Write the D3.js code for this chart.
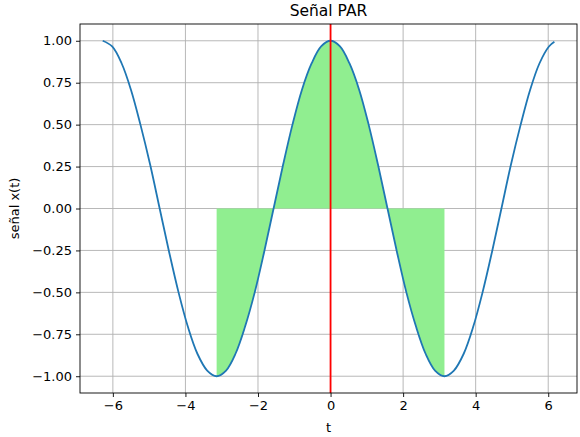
<!DOCTYPE html>
<html>
<head>
<meta charset="utf-8">
<script src="https://cdn.jsdelivr.net/npm/d3@7"></script>
<style>
  body { margin: 0; background: #fff; }
  svg text { font-family: "DejaVu Sans", sans-serif; fill: #000; }
</style>
</head>
<body>
<div id="chart"></div>
<script>
// signal samples
var t_values = [-6.28, -6.02, -5.76, -5.50, -5.24, -4.97, -4.71, -4.45, -4.19, -3.93, -3.67, -3.40,
  -3.14, -2.88, -2.62, -2.36, -2.09, -1.83, -1.57, -1.31, -1.05, -0.79, -0.52, -0.26,
  0, 0.26, 0.52, 0.79, 1.05, 1.31, 1.57, 1.83, 2.09, 2.36, 2.62, 2.88,
  3.14, 3.40, 3.67, 3.93, 4.19, 4.45, 4.71, 4.97, 5.24, 5.50, 5.76, 6.02, 6.17];
var x_values = [1, 0.966, 0.866, 0.707, 0.5, 0.259, 0, -0.259, -0.5, -0.707, -0.866, -0.966,
  -1, -0.966, -0.866, -0.707, -0.5, -0.259, 0, 0.259, 0.5, 0.707, 0.866, 0.966,
  1, 0.966, 0.866, 0.707, 0.5, 0.259, 0, -0.259, -0.5, -0.707, -0.866, -0.966,
  -1, -0.966, -0.866, -0.707, -0.5, -0.259, 0, 0.259, 0.5, 0.707, 0.866, 0.966, 0.994];
var fill_range = [-3.14, 3.14];
var x_ticks = [-6, -4, -2, 0, 2, 4, 6];
var y_ticks = [1.00, 0.75, 0.50, 0.25, 0.00, -0.25, -0.50, -0.75, -1.00];

var width = 580, height = 437;
var margin = {left: 80, right: 3, top: 24, bottom: 44};
var plot_w = width - margin.left - margin.right;
var plot_h = height - margin.top - margin.bottom;

var svg = d3.select('#chart').append('svg').attr('width', width).attr('height', height);
var g = svg.append('g').attr('transform', 'translate(' + margin.left + ',' + margin.top + ')');

var x_scale = d3.scaleLinear().domain([-6.906, 6.793]).range([0, plot_w]);
var y_scale = d3.scaleLinear().domain([-1.1, 1.1]).range([plot_h, 0]);

var fmt_minus = s => s.replace('-', '\u2212');

// grid
g.append('g').selectAll('line').data(x_ticks).enter().append('line')
  .attr('x1', d => x_scale(d)).attr('x2', d => x_scale(d))
  .attr('y1', 0).attr('y2', plot_h)
  .attr('stroke', '#b0b0b0').attr('stroke-width', 0.9);
g.append('g').selectAll('line').data(y_ticks).enter().append('line')
  .attr('y1', d => y_scale(d)).attr('y2', d => y_scale(d))
  .attr('x1', 0).attr('x2', plot_w)
  .attr('stroke', '#b0b0b0').attr('stroke-width', 0.9);

var points = t_values.map((t, i) => [t, x_values[i]]);
var fill_points = points.filter(p => p[0] >= fill_range[0] && p[0] <= fill_range[1]);

var area = d3.area().x(d => x_scale(d[0])).y0(y_scale(0)).y1(d => y_scale(d[1]))
  .curve(d3.curveCatmullRom);
g.append('path').datum(fill_points).attr('d', area).attr('fill', '#90ee90');

var line = d3.line().x(d => x_scale(d[0])).y(d => y_scale(d[1])).curve(d3.curveCatmullRom);
g.append('path').datum(points).attr('d', line)
  .attr('fill', 'none').attr('stroke', '#1f77b4').attr('stroke-width', 1.8);

// red vertical line at t = 0
g.append('line').attr('x1', x_scale(0)).attr('x2', x_scale(0))
  .attr('y1', 0).attr('y2', plot_h)
  .attr('stroke', 'red').attr('stroke-width', 1.8);

// axes
var x_axis = d3.axisBottom(x_scale).tickValues(x_ticks).tickSize(4).tickPadding(4)
  .tickFormat(d => fmt_minus(d3.format('d')(d)));
var y_axis = d3.axisLeft(y_scale).tickValues(y_ticks).tickSize(4).tickPadding(4)
  .tickFormat(d => fmt_minus(d3.format('.2f')(d)));
var xg = g.append('g').attr('transform', 'translate(0,' + plot_h + ')').call(x_axis);
var yg = g.append('g').call(y_axis);
[xg, yg].forEach(a => {
  a.select('.domain').remove();
  a.selectAll('text').style('font-size', '13px').style('font-family', '"DejaVu Sans", sans-serif');
  a.selectAll('line').attr('stroke', '#000').attr('stroke-width', 0.9);
});

g.append('rect').attr('width', plot_w).attr('height', plot_h)
  .attr('fill', 'none').attr('stroke', '#000').attr('stroke-width', 0.9);

// labels
svg.append('text').text('Señal PAR')
  .attr('x', margin.left + plot_w / 2).attr('y', 16)
  .attr('text-anchor', 'middle').style('font-size', '15.5px');
svg.append('text').text('t')
  .attr('x', margin.left + plot_w / 2).attr('y', 432)
  .attr('text-anchor', 'middle').style('font-size', '13px');
svg.append('text').text('señal x(t)')
  .attr('transform', 'translate(19,' + (margin.top + plot_h / 2) + ') rotate(-90)')
  .attr('text-anchor', 'middle').style('font-size', '13px');
</script>
</body>
</html>
